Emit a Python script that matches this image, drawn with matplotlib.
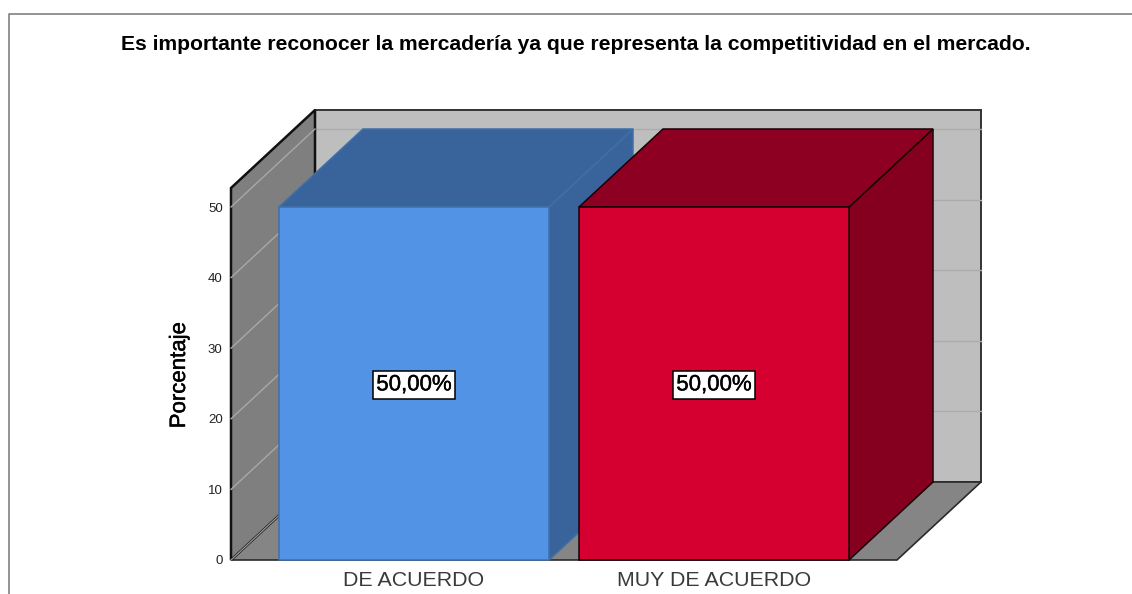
import matplotlib
matplotlib.use("Agg")
import matplotlib.pyplot as plt
from matplotlib.patches import Polygon
import matplotlib.patheffects as pe

plt.rcParams['font.family'] = ['Liberation Sans', 'DejaVu Sans']

categories = ["DE ACUERDO", "MUY DE ACUERDO"]
values = [50.0, 50.0]
labels = ["50,00%", "50,00%"]
yticks = [0, 10, 20, 30, 40, 50]
title = "Es importante reconocer la mercadería ya que representa la competitividad en el mercado."
ylabel = "Porcentaje"

front_colors = ["#5293E5", "#D5002F"]
top_colors = ["#39639B", "#8E0021"]
side_colors = ["#39639B", "#85001F"]
edge_colors = ["#3F6FA8", "#1A0006"]

W, H = 1132, 594
fig = plt.figure(figsize=(W / 100, H / 100), dpi=100, facecolor="white")

L, R, B, T = 231, 897, 560, 188
ax = fig.add_axes([L / W, (H - B) / H, (R - L) / W, (B - T) / H])
ax.set_xlim((L - 414) / 300, (R - 414) / 300)
ax.set_ylim(0, (B - T) / 7.06)
x0, x1 = ax.get_xlim()
y0, y1 = ax.get_ylim()
dx, dy = 84 / 300, 78 / 7.06
bw = 0.9
semi = [pe.withStroke(linewidth=0.3, foreground="black")]


def poly(pts, fc, ec="none", lw=0.0, z=1):
    ax.add_patch(Polygon(pts, closed=True, facecolor=fc, edgecolor=ec, linewidth=lw,
                         zorder=z, clip_on=False, joinstyle="miter"))


# walls
poly([(x0 + dx, y0 + dy), (x1 + dx, y0 + dy), (x1 + dx, y1 + dy), (x0 + dx, y1 + dy)], "#BEBEBE", "#333333", 1.4)
poly([(x0, y0), (x0 + dx, y0 + dy), (x0 + dx, y1 + dy), (x0, y1)], "#7F7F7F", "#111111", 1.8, z=1.2)
poly([(x0, y0), (x1, y0), (x1 + dx, y0 + dy), (x0 + dx, y0 + dy)], "#858585", "#2A2A2A", 1.2, z=1.1)

# gridlines on the walls
for t in yticks:
    if t > 0:
        ax.plot([x0 + dx, x1 + dx], [t + dy, t + dy], color="#ABABAB", lw=1.0, zorder=1.05, clip_on=False)
        ax.plot([x0, x0 + dx], [t, t + dy], color="#A8A8A8", lw=1.0, zorder=1.3, clip_on=False)
    else:
        ax.plot([x0, x0 + dx], [t, t + dy], color="#9A9A9A", lw=0.9, zorder=1.3, clip_on=False)

# bars
for i, v in enumerate(values):
    l, r = i - bw / 2, i + bw / 2
    ec = edge_colors[i]
    poly([(r, 0), (r + dx, dy), (r + dx, v + dy), (r, v)], side_colors[i], ec, 1.1, z=2)
    poly([(l, v), (r, v), (r + dx, v + dy), (l + dx, v + dy)], top_colors[i], ec, 1.1, z=2)
    poly([(l, 0), (r, 0), (r, v), (l, v)], front_colors[i], ec, 1.1, z=3)
    ax.text(i, v / 2 - 0.2, labels[i], ha="center", va="center", fontsize=16, color="black",
            zorder=5, clip_on=False, path_effects=semi,
            bbox=dict(boxstyle="square,pad=0.16", fc="white", ec="black", lw=1.1))

# axes dressing
for s in ax.spines.values():
    s.set_visible(False)
ax.patch.set_visible(False)
ax.set_yticks(yticks)
ax.set_xticks(range(len(categories)))
ax.set_xticklabels(categories, fontsize=15.4, color="#3A3A3A")
ax.tick_params(axis="x", length=0, pad=8)
ax.tick_params(axis="y", length=0, pad=6, labelsize=9.5, labelcolor="#222222")
ax.set_ylabel(ylabel, fontsize=16, color="black", path_effects=semi)
ax.yaxis.set_label_coords((190 - L) / (R - L), (B - 375) / (B - T))

fig.text(575.5 / W, 1 - 44 / H, title, ha="center", va="center", fontsize=15.26, fontweight="bold", color="black")

# outer frame
fig.add_artist(plt.Line2D([8.5 / W, 8.5 / W, 1], [0, 1 - 13.5 / H, 1 - 13.5 / H], color="#808080", lw=1.2))

fig.savefig("out.png", dpi=100)
